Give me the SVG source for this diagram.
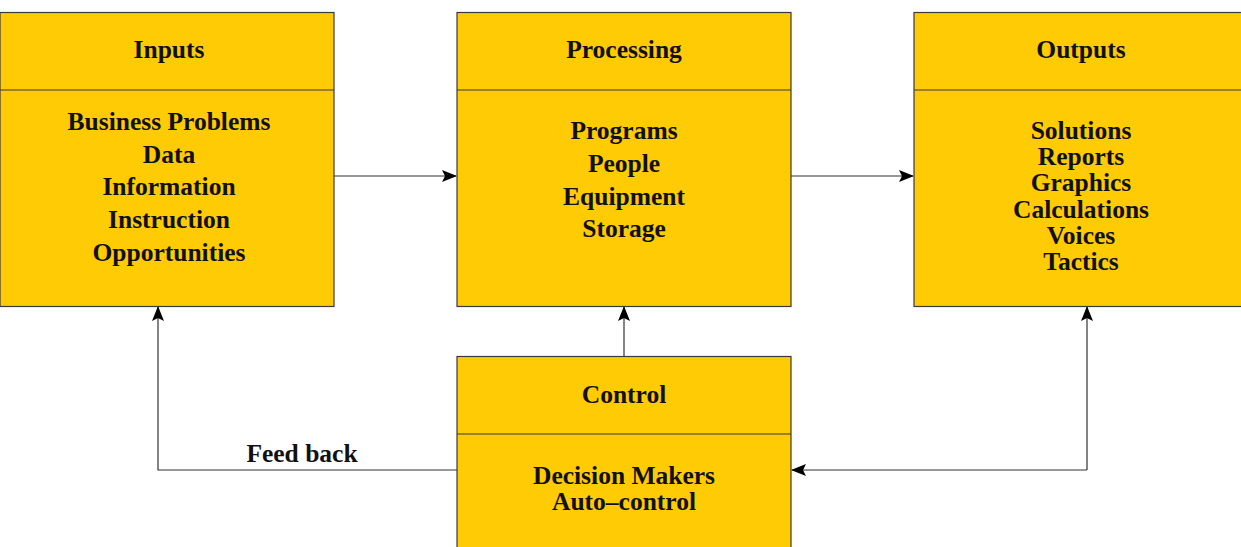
<svg xmlns="http://www.w3.org/2000/svg" width="1241" height="547" viewBox="0 0 1241 547">
<defs>
<style>
.box{fill:#FFCB05;stroke:#3a3a3a;stroke-width:1.2}
.div{stroke:#3a3a3a;stroke-width:1.2}
.t{font-family:"Liberation Serif","Times New Roman",serif;font-weight:bold;font-size:25.5px;fill:#111;text-anchor:middle}
.c{fill:none;stroke:#333;stroke-width:1.2}
</style>
<marker id="ah" markerWidth="15" markerHeight="12" refX="14" refY="6" orient="auto" markerUnits="userSpaceOnUse">
<path d="M0,0 L15,6 L0,12 L3,6 Z" fill="#000"/>
</marker>
</defs>
<rect width="1241" height="547" fill="#fff"/>
<g id="connectors">
<line class="c" x1="334" y1="176" x2="456" y2="176" marker-end="url(#ah)"/>
<line class="c" x1="791" y1="176" x2="913" y2="176" marker-end="url(#ah)"/>
<line class="c" x1="624" y1="356" x2="624" y2="307" marker-end="url(#ah)"/>
<polyline class="c" points="457,470 158,470 158,307" marker-end="url(#ah)"/>
<polyline class="c" points="1087,470 1087,307" marker-end="url(#ah)"/>
<polyline class="c" points="1087,470 792,470" marker-end="url(#ah)"/>
<text class="t" x="302" y="462">Feed back</text>
</g>
<g id="inputs">
<rect class="box" x="0" y="12.5" width="334" height="294"/>
<line class="div" x1="0" y1="90" x2="334" y2="90"/>
<text class="t" x="169" y="58">Inputs</text>
<text class="t" x="169" y="130">Business Problems</text>
<text class="t" x="169" y="163">Data</text>
<text class="t" x="169" y="195">Information</text>
<text class="t" x="169" y="228">Instruction</text>
<text class="t" x="169" y="261">Opportunities</text>
</g>
<g id="processing">
<rect class="box" x="457" y="12.5" width="334" height="294"/>
<line class="div" x1="457" y1="90" x2="791" y2="90"/>
<text class="t" x="624" y="58">Processing</text>
<text class="t" x="624" y="139">Programs</text>
<text class="t" x="624" y="172">People</text>
<text class="t" x="624" y="205">Equipment</text>
<text class="t" x="624" y="237">Storage</text>
</g>
<g id="outputs">
<rect class="box" x="914" y="12.5" width="330" height="294"/>
<line class="div" x1="914" y1="90" x2="1241" y2="90"/>
<text class="t" x="1081" y="58">Outputs</text>
<text class="t" x="1081" y="139">Solutions</text>
<text class="t" x="1081" y="165">Reports</text>
<text class="t" x="1081" y="191">Graphics</text>
<text class="t" x="1081" y="218">Calculations</text>
<text class="t" x="1081" y="244">Voices</text>
<text class="t" x="1081" y="270">Tactics</text>
</g>
<g id="control">
<rect class="box" x="457" y="356.5" width="334" height="200"/>
<line class="div" x1="457" y1="434" x2="791" y2="434"/>
<text class="t" x="624" y="403">Control</text>
<text class="t" x="624" y="484">Decision Makers</text>
<text class="t" x="624" y="510">Auto–control</text>
</g>
</svg>
